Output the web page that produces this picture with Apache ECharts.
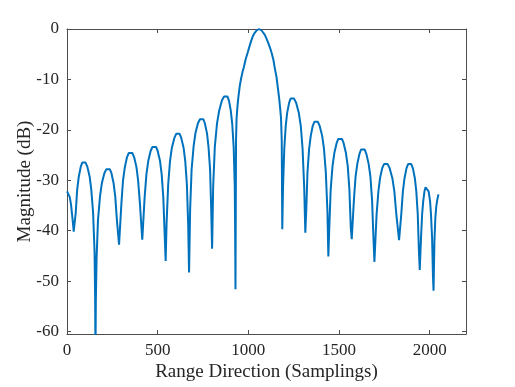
<!DOCTYPE html>
<html>
<head>
<meta charset="utf-8">
<script src="https://cdn.jsdelivr.net/npm/echarts@6/dist/echarts.min.js"></script>
<style>
  html, body { margin: 0; padding: 0; background: #fff; }
  #chart { width: 515px; height: 387px; }
</style>
</head>
<body>
<div id="chart"></div>
<script>
// range bin index (samplings)
var rangeBins = [
    0, 8, 15, 22, 28, 33, 37,
    48, 56, 65, 76, 84, 92, 102, 112, 125, 134, 144, 152, 155, 157,
    159, 163, 171, 182, 192, 206, 217, 227, 236, 245, 257, 266, 275, 287,
    300, 309, 319, 331, 341, 350, 360, 370, 383, 392, 402, 415,
    428, 438, 448, 461, 471, 481, 491, 500, 513, 522, 531, 539, 544,
    549, 558, 568, 578, 592, 602, 612, 621, 630, 643, 652, 661, 668, 673,
    675, 679, 687, 698, 708, 722, 733, 743, 752, 760, 772, 780, 789, 795, 800,
    802, 806, 815, 827, 839, 854, 866, 877, 885, 893, 903, 911, 919, 925, 927, 929,
    932, 935, 940, 945, 953, 960, 968, 975, 985, 996, 1005, 1015, 1025, 1035, 1045, 1052, 1059,
    1066, 1073, 1082, 1090, 1100, 1110, 1120, 1128, 1138, 1145, 1155, 1161, 1170, 1176, 1180, 1184, 1187,
    1191, 1198, 1206, 1214, 1225, 1233, 1241, 1252, 1263, 1278, 1289, 1299, 1308, 1314,
    1319, 1326, 1335, 1344, 1355, 1364, 1373, 1383, 1393, 1407, 1417, 1427, 1436, 1441,
    1446, 1454, 1464, 1474, 1487, 1496, 1506, 1516, 1525, 1538, 1548, 1557, 1565, 1570,
    1582, 1591, 1601, 1613, 1622, 1631, 1641, 1650, 1663, 1673, 1682, 1690, 1695,
    1707, 1717, 1726, 1738, 1748, 1757, 1768, 1779, 1794, 1805, 1816, 1831,
    1843, 1852, 1861, 1872, 1881, 1890, 1898, 1907, 1918, 1926, 1934, 1941, 1945,
    1952, 1958, 1964, 1971, 1977, 1982, 1988, 1994, 2002, 2007, 2013, 2018, 2021,
    2026, 2031, 2036, 2042, 2048
];

// magnitude in dB, same order as rangeBins
var magnitudeDb = [
    -32.2, -32.5, -33.3, -34.8, -36.8, -38.6, -40.2,
    -36.5, -31.9, -29.3, -27.3, -26.5, -26.3, -26.5, -27.3, -29.3, -31.9, -36.5, -44.3, -52.8, -65,
    -54.1, -45.6, -37.8, -33.2, -30.6, -28.6, -27.8, -27.6, -27.8, -28.6, -30.6, -33.2, -37.8, -42.8,
    -34.6, -30.0, -27.4, -25.4, -24.6, -24.4, -24.6, -25.4, -27.4, -30.0, -34.6, -41.8,
    -33.4, -28.8, -26.2, -24.2, -23.4, -23.2, -23.4, -24.2, -26.2, -28.8, -33.4, -41.2, -46.0,
    -38.6, -30.8, -26.2, -23.6, -21.6, -20.8, -20.6, -20.8, -21.6, -23.6, -26.2, -30.8, -38.6, -48.3,
    -44.2, -35.7, -27.9, -23.3, -20.7, -18.7, -17.9, -17.7, -17.9, -18.7, -20.7, -23.3, -27.9, -35.7, -43.6,
    -39.7, -31.2, -23.4, -18.8, -16.2, -14.2, -13.4, -13.2, -13.4, -14.2, -16.2, -18.8, -23.4, -31.2, -39.7, -51.6,
    -22, -17.7, -15.3, -13.5, -11.2, -9.8, -8.5, -7.6, -6.0, -4.7, -3.6, -2.4, -1.4, -0.75, -0.3, -0.08, 0,
    -0.08, -0.3, -0.65, -1.1, -1.9, -2.8, -3.8, -4.7, -6.1, -7.6, -9.5, -11.2, -13.8, -16, -17.7, -22, -39.7,
    -31.6, -23.8, -19.2, -16.6, -14.6, -13.8, -13.6, -13.8, -14.6, -16.6, -19.2, -23.8, -31.6, -40.4,
    -36.2, -28.4, -23.8, -21.2, -19.2, -18.4, -18.2, -18.4, -19.2, -21.2, -23.8, -28.4, -36.2, -45.1,
    -39.6, -31.8, -27.2, -24.6, -22.6, -21.8, -21.6, -21.8, -22.6, -24.6, -27.2, -31.8, -39.6, -41.7,
    -33.9, -29.3, -26.7, -24.7, -23.9, -23.7, -23.9, -24.7, -26.7, -29.3, -33.9, -41.7, -46.2,
    -36.8, -32.2, -29.6, -27.6, -26.8, -26.6, -26.8, -27.6, -29.6, -32.2, -36.8, -41.9,
    -36.8, -32.2, -29.6, -27.6, -26.8, -26.6, -26.8, -27.6, -29.6, -32.2, -36.8, -44.6, -47.8,
    -41.4, -36.8, -34.2, -32.2, -31.4, -31.2, -31.4, -32.2, -34.2, -36.8, -41.4, -49.2, -51.9,
    -42, -37.5, -35.2, -33.8, -32.8
];

var xTicks = [0, 500, 1000, 1500, 2000];
var yTicks = [0, -10, -20, -30, -40, -50, -60];

var chart = echarts.init(document.getElementById('chart'));

var font = "'Liberation Serif', 'DejaVu Serif', serif";
var axisColor = '#4d4d4d';

var points = rangeBins.map(function (x, i) { return [x, magnitudeDb[i]]; });

function boxAxis(pos, ticks, showLabels, extra) {
    var ax = {
        type: 'value',
        position: pos,
        axisLine: { show: true, onZero: false, lineStyle: { color: axisColor, width: 1 } },
        axisTick: { show: true, inside: true, length: 4, customValues: ticks, lineStyle: { color: axisColor } },
        axisLabel: {
            show: showLabels, customValues: ticks, color: '#262626',
            fontFamily: font, fontSize: 17,
            formatter: function (v) { return String(v); }
        },
        splitLine: { show: false }
    };
    return Object.assign(ax, extra);
}

var option = {
    animation: false,
    grid: { left: 67, right: 49, top: 29, bottom: 48, containLabel: false },
    xAxis: [
        boxAxis('bottom', xTicks, true, {
            min: 0, max: 2200,
            name: 'Range Direction (Samplings)',
            nameLocation: 'middle', nameGap: 29, nameMoveOverlap: false,
            nameTextStyle: { color: '#262626', fontFamily: font, fontSize: 19 }
        }),
        boxAxis('top', xTicks, false, { min: 0, max: 2200 })
    ],
    yAxis: [
        boxAxis('left', yTicks, true, {
            min: -60.5, max: 0,
            name: 'Magnitude (dB)',
            nameLocation: 'middle', nameGap: 32, nameMoveOverlap: false,
            nameTextStyle: { color: '#262626', fontFamily: font, fontSize: 19 }
        }),
        boxAxis('right', yTicks, false, { min: -60.5, max: 0 })
    ],
    series: [{
        type: 'line',
        data: points,
        showSymbol: false,
        clip: true,
        lineStyle: { color: '#0072BD', width: 2 }
    }]
};

chart.setOption(option);
</script>
</body>
</html>
